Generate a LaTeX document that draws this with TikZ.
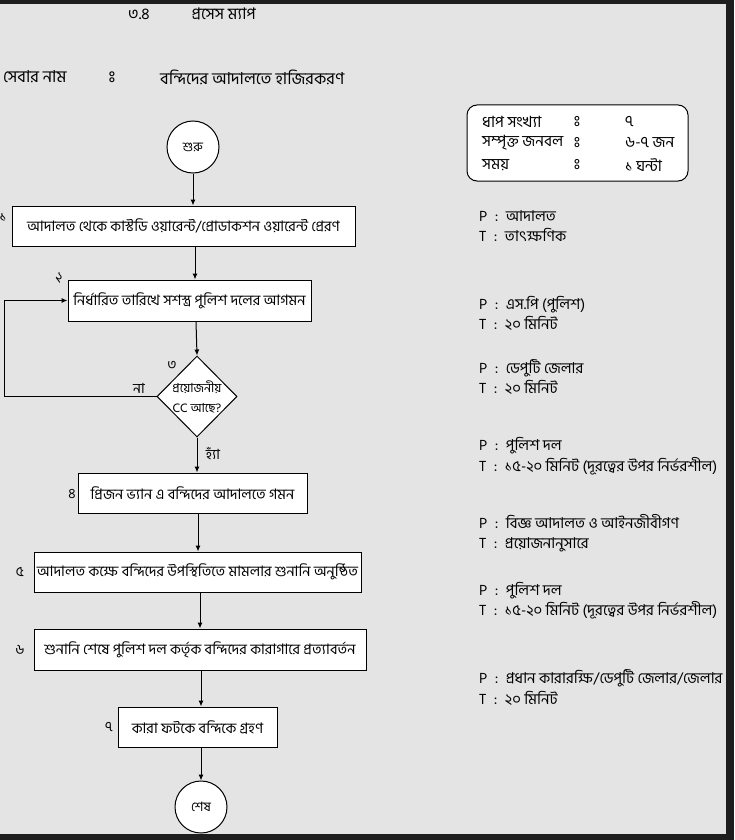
\documentclass[tikz,border=0pt]{standalone}
\usepackage{fontspec}
\setmainfont[Script=Bengali]{Hind Siliguri}
\usetikzlibrary{arrows.meta,shapes.geometric,positioning}
\definecolor{pagebg}{HTML}{E4E4E4}
\definecolor{framecol}{HTML}{1E1E1E}
\newcommand{\visarga}{\XeTeXglyph\XeTeXcharglyph"0983\relax}
\tikzset{
        procbox/.style={
                draw=black,
                line width=1pt,
                fill=white,
                inner sep=0pt,
                minimum height=40pt,
                text centered,
                font=\fontsize{14.5}{16}\selectfont
            },
        termnode/.style={
                circle,
                draw=black,
                line width=1pt,
                fill=white,
                inner sep=0pt,
                minimum size=52pt,
                font=\fontsize{13}{15}\selectfont
            },
        decision/.style={
                diamond,
                draw=black,
                line width=1pt,
                fill=white,
                inner sep=0pt,
                minimum width=80pt,
                minimum height=81pt
            },
        stepno/.style={inner sep=0pt, font=\fontsize{14}{16}\selectfont},
        heading/.style={anchor=west, inner sep=0pt, font=\fontsize{16.5}{18}\selectfont},
        infotext/.style={inner sep=0pt, font=\fontsize{15.5}{17}\selectfont},
        ptnote/.style={
                anchor=west,
                align=left,
                inner sep=0pt,
                font=\fontsize{15}{20.5}\selectfont
            },
        arr/.style={-{Latex[length=6pt,width=5pt]}, line width=1pt},
}

\begin{document}
\begin{tikzpicture}[x=1pt,y=-1pt]
  % Page
  \useasboundingbox (0,0) rectangle (734,840);
  \fill[pagebg] (0,0) rectangle (734,840);
  \fill[framecol] (0,0) rectangle (734,4);
  \fill[framecol] (726,0) rectangle (734,840);
  \fill[framecol] (0,834) rectangle (734,840);
  % Heading
  \node[heading, font=\fontsize{16}{18}\selectfont] (title) at (128,14) {৩.৪\hspace{42pt}প্রসেস ম্যাপ};
  \node[heading] (svc) at (3,77) {সেবার নাম};
  \node[heading, anchor=center] (svccol) at (112,77) {\visarga};
  \node[heading] (svcname) at (160,77) {বন্দিদের আদালতে হাজিরকরণ};
  % Flow
  \node[termnode] (start) at (193,147) {শুরু};
  \node[procbox, minimum width=343pt] (box1) at (183.5,226) {আদালত থেকে কাস্টডি ওয়ারেন্ট/প্রোডাকশন ওয়ারেন্ট প্রেরণ};
  \node[procbox, minimum width=243pt, minimum height=41pt] (box2) at (189.5,300.5) {নির্ধারিত তারিখে সশস্ত্র পুলিশ দলের আগমন};
  \node[decision] (dec) at (197,396.5) {};
  \node[align=center, inner sep=0pt, font=\fontsize{12.5}{20}\selectfont] (dectext) at (dec) {প্রয়োজনীয়\\CC আছে?};
  \node[procbox, minimum width=229pt] (box4) at (192.5,493) {প্রিজন ভ্যান এ বন্দিদের আদালতে গমন};
  \node[procbox, minimum width=327pt] (box5) at (197.5,572) {আদালত কক্ষে বন্দিদের উপস্থিতিতে মামলার শুনানি অনুষ্ঠিত};
  \node[procbox, minimum width=332pt, minimum height=41pt] (box6) at (200,649.5) {শুনানি শেষে পুলিশ দল কর্তৃক বন্দিদের কারাগারে প্রত্যাবর্তন};
  \node[procbox, minimum width=159pt] (box7) at (197.5,727) {কারা ফটকে বন্দিকে গ্রহণ};
  \node[termnode] (stop) at (201,807) {শেষ};
  % Step numbers
  \node[stepno] (n1) at (3,217) {১};
  \node[stepno, rotate=-20] (n2) at (59,278) {২};
  \node[stepno] (n3) at (172,365) {৩};
  \node[stepno] (n4) at (72,494) {৪};
  \node[stepno] (n5) at (20,572) {৫};
  \node[stepno] (n6) at (20,650) {৬};
  \node[stepno] (n7) at (109,727) {৭};
  \node[stepno] (no) at (139,388) {না};
  \node[stepno] (yes) at (213,454) {হ্যাঁ};
  % Connectors
  \draw[arr] (start.south) -- (start.south |- box1.north);
  \draw[arr] ([xshift=11.5pt]box1.south) -- ([xshift=11.5pt]box1.south |- box2.north);
  \draw[arr] ([xshift=6.5pt]box2.south) -- (dec.north);
  \draw[arr] (dec.south) -- (dec.south |- box4.north);
  \draw[arr] ([xshift=5.5pt]box4.south) -- ([xshift=5.5pt]box4.south |- box5.north);
  \draw[arr] ([xshift=2.5pt]box5.south) -- ([xshift=2.5pt]box5.south |- box6.north);
  \draw[arr] ([xshift=1pt]box6.south) -- ([xshift=1pt]box6.south |- box7.north);
  \draw[arr] ([xshift=3.5pt]box7.south) -- (stop.north);
  \coordinate (loop) at (4,396.5);
  \draw[arr] (dec.west) -- (loop) |- (box2.west);
  % Summary
  \node[draw=black, line width=1pt, fill=white, rounded corners=10pt, minimum width=221pt, minimum height=76pt] (info) at (577.5,143) {};
  \node[infotext, anchor=west] (k1) at (482,122) {ধাপ সংখ্যা};
  \node[infotext, anchor=west] (k2) at (482,143) {সম্পৃক্ত জনবল};
  \node[infotext, anchor=west] (k3) at (482,165) {সময়};
  \node[infotext] (c1) at (577,122) {\visarga};
  \node[infotext] (c2) at (577,143) {\visarga};
  \node[infotext] (c3) at (577,165) {\visarga};
  \node[infotext, anchor=west] (v1) at (625,122) {৭};
  \node[infotext, anchor=west] (v2) at (625,143) {৬-৭ জন};
  \node[infotext, anchor=west] (v3) at (625,165) {১ ঘন্টা};
  % Person / time
  \node[ptnote] (pt1) at (479,226) {P\enspace:\enspace আদালত\\T\enspace:\enspace তাৎক্ষণিক};
  \node[ptnote] (pt2) at (479,313.5) {P\enspace:\enspace এস.পি (পুলিশ)\\T\enspace:\enspace ২০ মিনিট};
  \node[ptnote] (pt3) at (479,377) {P\enspace:\enspace ডেপুটি জেলার\\T\enspace:\enspace ২০ মিনিট};
  \node[ptnote] (pt4) at (479,456) {P\enspace:\enspace পুলিশ দল\\T\enspace:\enspace ১৫-২০ মিনিট (দূরত্বের উপর নির্ভরশীল)};
  \node[ptnote] (pt5) at (479,533) {P\enspace:\enspace বিজ্ঞ আদালত ও আইনজীবীগণ\\T\enspace:\enspace প্রয়োজনানুসারে};
  \node[ptnote] (pt6) at (479,600.5) {P\enspace:\enspace পুলিশ দল\\T\enspace:\enspace ১৫-২০ মিনিট (দূরত্বের উপর নির্ভরশীল)};
  \node[ptnote] (pt7) at (479,687.5) {P\enspace:\enspace প্রধান কারারক্ষি/ডেপুটি জেলার/জেলার\\T\enspace:\enspace ২০ মিনিট};
\end{tikzpicture}
\end{document}
